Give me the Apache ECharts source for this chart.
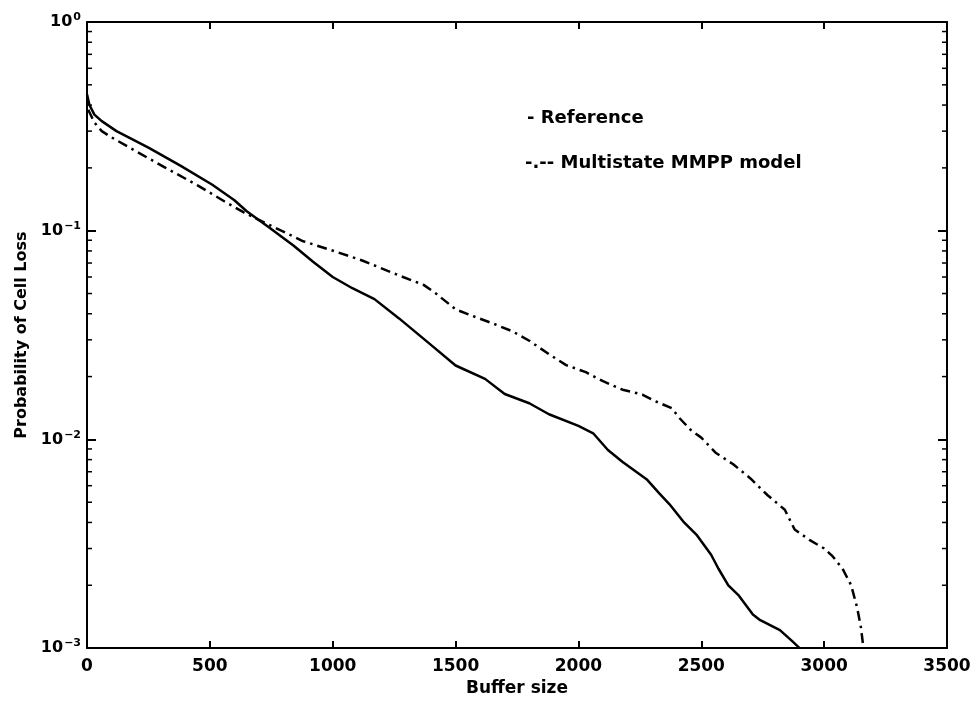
<!DOCTYPE html>
<html>
<head>
<meta charset="utf-8">
<title>Probability of Cell Loss</title>
<script src="https://cdn.jsdelivr.net/npm/echarts@6/dist/echarts.min.js"></script>
<style>
    html, body { margin: 0; padding: 0; background: #fff; }
    #main { width: 978px; height: 702px; }
</style>
</head>
<body>
<div id="main"></div>
<script type="text/javascript">
    // values (buffer size -> probability of cell loss)
    var refX = [0, 10, 30, 60, 120, 250, 380, 510, 600, 650, 740, 840, 920, 1000, 1080, 1170, 1270, 1390, 1500,
        1620, 1700, 1800, 1880, 2000, 2060, 2120, 2180, 2280, 2330, 2370, 2430, 2480, 2540, 2570, 2610, 2650,
        2710, 2740, 2820, 2870, 2900];
    var refY = [0.45, 0.40, 0.36, 0.335, 0.30, 0.25, 0.205, 0.166, 0.14, 0.124, 0.104, 0.085, 0.071, 0.060, 0.053,
        0.047, 0.038, 0.029, 0.0226, 0.0195, 0.0165, 0.0149, 0.0132, 0.0116, 0.0107, 0.0089, 0.0078, 0.0064,
        0.0055, 0.0049, 0.0040, 0.0035, 0.0028, 0.0024, 0.0020, 0.0018, 0.00145, 0.00136, 0.00122, 0.00108, 0.001];

    var mmppX = [5, 30, 60, 100, 200, 320, 450, 560, 640, 760, 880, 990, 1120, 1270, 1370, 1420, 1500, 1570, 1650,
        1730, 1800, 1880, 1950, 2030, 2100, 2180, 2260, 2310, 2380, 2410, 2460, 2500, 2560, 2630, 2700, 2770,
        2840, 2880, 2940, 3000, 3035, 3075, 3110, 3135, 3150, 3160];
    var mmppY = [0.38, 0.33, 0.30, 0.28, 0.24, 0.20, 0.165, 0.138, 0.122, 0.104, 0.089, 0.081, 0.072, 0.061, 0.055,
        0.050, 0.042, 0.039, 0.036, 0.033, 0.0297, 0.0256, 0.0227, 0.021, 0.019, 0.0173, 0.0164, 0.0153, 0.0141,
        0.0127, 0.0110, 0.0102, 0.0086, 0.0076, 0.0065, 0.0054, 0.0046, 0.0037, 0.0033, 0.0030, 0.00275, 0.0024,
        0.0020, 0.00155, 0.00125, 0.001];

    var xTicks = [0, 500, 1000, 1500, 2000, 2500, 3000, 3500];
    var yTickExps = [0, -1, -2, -3];
    var minorSteps = [2, 3, 4, 5, 6, 7, 8, 9];
    var legendLabels = ["- Reference", "-.-- Multistate MMPP model"];

    var font = "DejaVu Sans";

    function pairs(xs, ys) {
        var out = [];
        for (var i = 0; i < xs.length; i++) {
            out.push([xs[i], ys[i]]);
        }
        return out;
    }

    function expLabel(value) {
        var e = Math.round(Math.log(value) / Math.LN10);
        var s = e < 0 ? "\u2212" + (-e) : String(e);
        return "{b|10}{s|" + s + "}";
    }

    var tickStyle = {color: "#000", width: 2};
    var myChart = echarts.init(document.getElementById("main"));

    myChart.setOption({
        animation: false,
        backgroundColor: "#fff",
        grid: {left: 87, right: 31, top: 22, bottom: 53},
        xAxis: [{
            type: "value",
            min: xTicks[0],
            max: xTicks[xTicks.length - 1],
            interval: 500,
            name: "Buffer size",
            nameLocation: "middle",
            nameGap: 29,
            nameTextStyle: {color: "#000", fontFamily: font, fontWeight: "bold", fontSize: 17},
            axisLine: {onZero: false, lineStyle: tickStyle},
            axisTick: {inside: true, length: 7, lineStyle: tickStyle},
            axisLabel: {margin: 10, color: "#000", fontFamily: font, fontWeight: "bold", fontSize: 17,
                formatter: function (v) { return String(v); }},
            splitLine: {show: false}
        }, {
            type: "value",
            position: "top",
            min: xTicks[0],
            max: xTicks[xTicks.length - 1],
            interval: 500,
            axisLine: {onZero: false, lineStyle: tickStyle},
            axisTick: {inside: true, length: 7, lineStyle: tickStyle},
            axisLabel: {show: false},
            splitLine: {show: false}
        }],
        yAxis: [{
            type: "log",
            logBase: 10,
            min: Math.pow(10, yTickExps[yTickExps.length - 1]),
            max: Math.pow(10, yTickExps[0]),
            name: "Probability of Cell Loss",
            nameLocation: "middle",
            nameGap: 55,
            nameTextStyle: {color: "#000", fontFamily: font, fontWeight: "bold", fontSize: 16},
            axisLine: {onZero: false, lineStyle: tickStyle},
            axisTick: {inside: true, length: 9, lineStyle: tickStyle},
            axisLabel: {
                margin: 6,
                formatter: expLabel,
                rich: {
                    b: {color: "#000", fontFamily: font, fontWeight: "bold", fontSize: 16},
                    s: {color: "#000", fontFamily: font, fontWeight: "bold", fontSize: 11,
                        verticalAlign: "bottom", padding: [0, 0, 9, 1]}
                }
            },
            splitLine: {show: false}
        }, {
            type: "log",
            logBase: 10,
            position: "right",
            min: Math.pow(10, yTickExps[yTickExps.length - 1]),
            max: Math.pow(10, yTickExps[0]),
            axisLine: {onZero: false, lineStyle: tickStyle},
            axisTick: {inside: true, length: 9, lineStyle: tickStyle},
            axisLabel: {show: false},
            splitLine: {show: false}
        }],
        series: [{
            name: "Reference",
            type: "line",
            showSymbol: false,
            data: pairs(refX, refY),
            lineStyle: {color: "#000", width: 2.5}
        }, {
            name: "Multistate MMPP model",
            type: "line",
            showSymbol: false,
            data: pairs(mmppX, mmppY),
            lineStyle: {color: "#000", width: 2.5, type: [10, 5, 2.5, 5]}
        }]
    });

    // log minor ticks (2..9 in each decade) on the left and right frame
    var xLeft = myChart.convertToPixel({xAxisIndex: 0}, xTicks[0]);
    var xRight = myChart.convertToPixel({xAxisIndex: 0}, xTicks[xTicks.length - 1]);
    var marks = [];
    yTickExps.forEach(function (e) {
        if (e == 0) return;
        minorSteps.forEach(function (m) {
            var py = myChart.convertToPixel({yAxisIndex: 0}, m * Math.pow(10, e));
            marks.push({type: "line", shape: {x1: xLeft, y1: py, x2: xLeft + 5, y2: py},
                style: {stroke: "#000", lineWidth: 1.5}});
            marks.push({type: "line", shape: {x1: xRight, y1: py, x2: xRight - 5, y2: py},
                style: {stroke: "#000", lineWidth: 1.5}});
        });
    });
    marks.push({type: "text", left: 527, top: 109,
        style: {text: legendLabels[0], fill: "#000", font: "bold 18px 'DejaVu Sans'"}});
    marks.push({type: "text", left: 525, top: 154,
        style: {text: legendLabels[1], fill: "#000", font: "bold 18px 'DejaVu Sans'"}});
    myChart.setOption({graphic: marks});
</script>
</body>
</html>
